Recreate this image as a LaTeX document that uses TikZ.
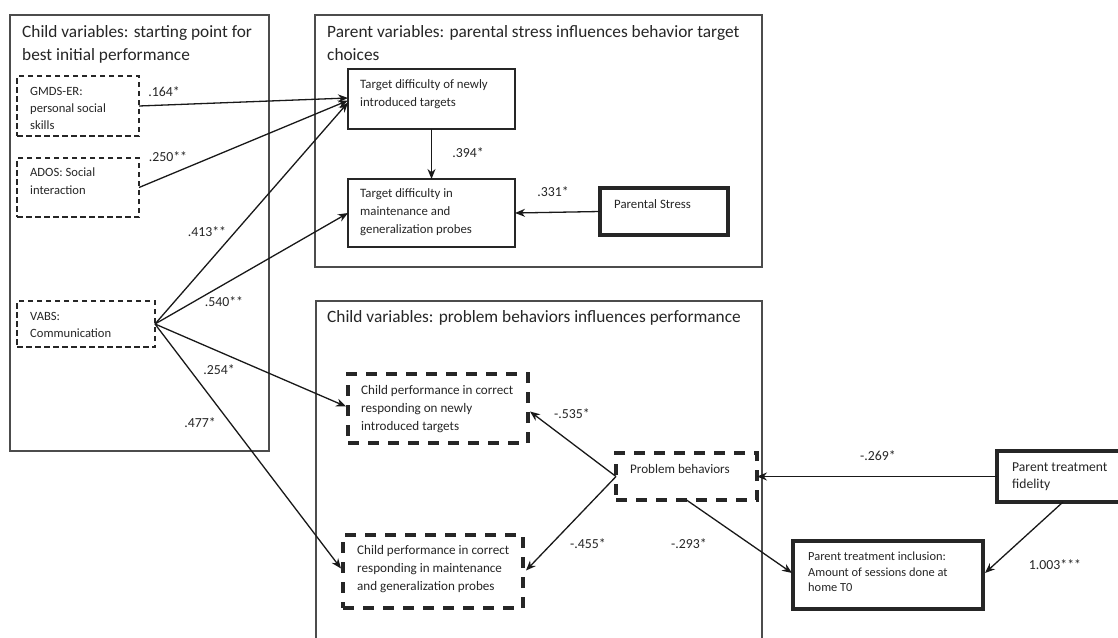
\documentclass[tikz,border=0pt]{standalone}
\usepackage{fontspec}
\setmainfont{Carlito}
\usetikzlibrary{arrows.meta,calc}
\begin{document}
\begin{tikzpicture}[x=1pt,y=-1pt,
  bigbox/.style={draw=black!70,line width=1.1pt},
  dbox/.style={draw=black!85,line width=1.6pt,dash pattern=on 5.5pt off 3.5pt,inner sep=0pt,outer sep=0pt},
  tdbox/.style={draw=black!85,line width=3.3pt,dash pattern=on 11pt off 9pt,inner sep=0pt,outer sep=0pt},
  sbox/.style={draw=black!85,line width=1.5pt,inner sep=0pt,outer sep=0pt},
  tbox/.style={draw=black!85,line width=3.2pt,inner sep=0pt,outer sep=0pt},
  conn/.style={-{Stealth[length=10pt,width=8pt]},line width=1.3pt,black!90},
  txt/.style={anchor=north west,inner sep=0pt,align=left,text=black!85,font=\fontsize{12.8}{18}\selectfont},
  ttl/.style={anchor=north west,inner sep=0pt,align=left,text=black!85,font=\fontsize{17.3}{23}\selectfont},
  lab/.style={inner sep=0pt,text=black!85,font=\fontsize{13.8}{15}\selectfont}]
\clip (0,0) rectangle (1118,637);
\fill[white] (0,0) rectangle (1118,637);
% group boxes
\draw[bigbox] (10,15) rectangle (269,451);
\draw[bigbox] (315,15) rectangle (762,267);
\draw[bigbox] (316,650) -- (316,301) -- (762,301) -- (762,650);
\node[ttl] (t1) at (22,25) {Child variables: starting point for\\best initial performance};
\node[ttl] (t2) at (327,25) {Parent variables: parental stress influences behavior target\\choices};
\node[ttl] (t3) at (327,310) {Child variables: problem behaviors influences performance};
% boxes
\node[dbox,minimum width=122pt,minimum height=60pt] (gm) at (78,106) {};
\node[dbox,minimum width=122pt,minimum height=59pt] (ad) at (78,187.5) {};
\node[dbox,minimum width=138pt,minimum height=46pt] (vb) at (86,324) {};
\node[sbox,minimum width=167pt,minimum height=60pt] (tdn) at (431.5,99) {};
\node[sbox,minimum width=167pt,minimum height=68pt] (tdm) at (431.5,213) {};
\node[tbox,minimum width=128pt,minimum height=47pt] (ps) at (664,211.5) {};
\node[tdbox,minimum width=180pt,minimum height=69pt] (cpn) at (438,408.5) {};
\node[tdbox,minimum width=180pt,minimum height=73pt] (cpm) at (433,571.5) {};
\node[tdbox,minimum width=141pt,minimum height=47pt] (pb) at (686.5,476.5) {};
\node[tbox,minimum width=190pt,minimum height=68pt] (pti) at (888,575) {};
\node[tbox,minimum width=130pt,minimum height=51pt] (ptf) at (1062,476.5) {};
% texts
\node[txt,font=\fontsize{12.6}{17}\selectfont] (gmt) at (30,87) {GMDS-ER:\\personal social\\skills};
\node[txt,font=\fontsize{12.6}{18}\selectfont] (adt) at (30,168) {ADOS: Social\\interaction};
\node[txt,font=\fontsize{12.6}{17}\selectfont] (vbt) at (30,312) {VABS:\\Communication};
\node[txt] (tdnt) at (360,79) {Target difficulty of newly\\introduced targets};
\node[txt] (tdmt) at (360,188) {Target difficulty in\\maintenance and\\generalization probes};
\node[txt] (pst) at (614,199) {Parental Stress};
\node[txt,font=\fontsize{13.1}{18}\selectfont] (cpnt) at (361,385) {Child performance in correct\\responding on newly\\introduced targets};
\node[txt,font=\fontsize{13.1}{18}\selectfont] (cpmt) at (357,545) {Child performance in correct\\responding in maintenance\\and generalization probes};
\node[txt,font=\fontsize{13.1}{18}\selectfont] (pbt) at (630,464) {Problem behaviors};
\node[txt,font=\fontsize{12.4}{15.5}\selectfont] (ptit) at (808,552) {Parent treatment inclusion:\\Amount of sessions done at\\home T0};
\node[txt,font=\fontsize{13.6}{17}\selectfont] (ptft) at (1012,463) {Parent treatment\\fidelity};
% connectors
\draw[conn] (gm.east) -- ($(tdn.west)+(0,-1)$);
\draw[conn] (ad.east) -- ($(tdn.west)+(0,1.5)$);
\draw[conn] (vb.east) -- ($(tdn.west)+(0,3.5)$);
\draw[conn] (vb.east) -- (tdm.west);
\draw[conn] (vb.east) -- ($(cpn.west)+(-2,-2)$);
\draw[conn] (vb.east) -- ($(cpm.west)+(-2,-3)$);
\draw[conn] (tdn.south) -- (tdm.north);
\draw[conn] (ps.west) -- (tdm.east);
\draw[conn] (pb.west) -- ($(cpn.east)+(2,3)$);
\draw[conn] (pb.west) -- ($(cpm.east)+(3,-1)$);
\draw[conn] (pb.south) -- ($(pti.west)+(-1,-2)$);
\draw[conn] (ptf.west) -- (pb.east);
\draw[conn] ($(ptf.south)+(1,0)$) -- ($(pti.east)+(2,-2)$);
% labels
\node[lab] (l1) at (164,92) {.164*};
\node[lab] (l2) at (168,157) {.250**};
\node[lab] (l3) at (207,232) {.413**};
\node[lab] (l4) at (224,302) {.540**};
\node[lab] (l5) at (219,370) {.254*};
\node[lab] (l6) at (200,423) {.477*};
\node[lab] (l7) at (468,153) {.394*};
\node[lab] (l8) at (553,192) {.331*};
\node[lab] (l9) at (572,414) {-.535*};
\node[lab] (l10) at (588,544) {-.455*};
\node[lab] (l11) at (689,544) {-.293*};
\node[lab] (l12) at (878,456) {-.269*};
\node[lab] (l13) at (1055,565) {1.003***};
\end{tikzpicture}
\end{document}
